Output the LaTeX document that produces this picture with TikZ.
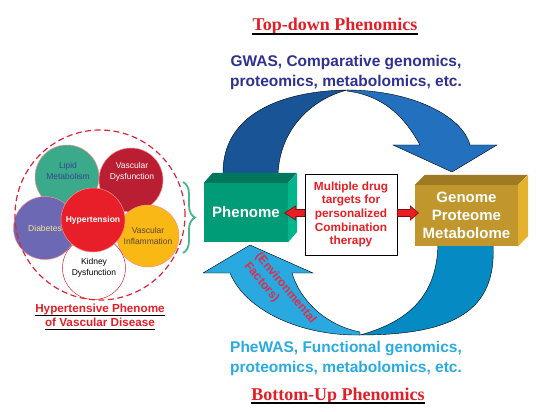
\documentclass[tikz,border=0pt]{standalone}
\usepackage{fontspec}
\setmainfont{Liberation Sans}
\newfontfamily\titleserif{Liberation Serif}
\usetikzlibrary{decorations.pathreplacing}

\definecolor{hdred}{RGB}{228,30,38}
\definecolor{gwasblue}{RGB}{46,49,146}
\definecolor{phewasblue}{RGB}{41,170,225}
\definecolor{topdark}{RGB}{25,85,150}
\definecolor{toplight}{RGB}{35,112,190}
\definecolor{botdark}{RGB}{5,138,196}
\definecolor{botlight}{RGB}{42,168,224}
\definecolor{phenofront}{RGB}{0,156,120}
\definecolor{phenotop}{RGB}{0,118,92}
\definecolor{phenoside}{RGB}{0,182,138}
\definecolor{genofront}{RGB}{192,150,45}
\definecolor{genotop}{RGB}{158,122,35}
\definecolor{genoside}{RGB}{228,178,45}
\definecolor{arrred}{RGB}{232,30,36}
\definecolor{arrdark}{RGB}{130,10,10}
\definecolor{lipidc}{RGB}{58,170,138}
\definecolor{lipidtext}{RGB}{55,70,140}
\definecolor{vdysc}{RGB}{186,30,50}
\definecolor{diabc}{RGB}{108,104,180}
\definecolor{diabtext}{RGB}{240,230,140}
\definecolor{vinfc}{RGB}{250,184,20}
\definecolor{vinftext}{RGB}{90,70,50}
\definecolor{hyperc}{RGB}{232,30,40}
\definecolor{bracegreen}{RGB}{70,182,140}
\definecolor{dashred}{RGB}{222,36,56}
\definecolor{envred}{RGB}{222,45,75}

\tikzset{
  blob/.style={circle,draw=red!45,line width=0.5pt,minimum size=64pt,inner sep=0pt,
    align=center,font=\fontsize{8.5}{11}\selectfont},
  blobtext/.style={inner sep=0pt,align=center,font=\fontsize{8.5}{11.5}\selectfont},
  phtitle/.style={inner sep=0pt,text=hdred,font=\titleserif\bfseries\fontsize{18}{20}\selectfont},
  methods/.style={inner sep=0pt,align=center,font=\bfseries\fontsize{15.5}{20}\selectfont},
  bigarrow/.style={draw=black,line width=0.4pt},
  redarrow/.style={fill=arrred,draw=arrdark,line width=0.6pt,line join=miter}
}

\begin{document}
\begin{tikzpicture}[x=1pt,y=-1pt]
  \useasboundingbox (0,0) rectangle (542,412);

  \node[phtitle,anchor=base] (top) at (335,31) {Top-down Phenomics};
  \draw[line width=1.6pt] ([yshift=-3pt]top.base west) -- ([yshift=-3pt]top.base east);
  \node[methods,text=gwasblue] (gwas) at (346,72) {GWAS, Comparative genomics,\\proteomics, metabolomics, etc.};

  \node[phtitle,anchor=base] (bottom) at (338,400) {Bottom-Up Phenomics};
  \draw[line width=1.6pt] ([yshift=-3pt]bottom.base west) -- ([yshift=-3pt]bottom.base east);
  \node[methods,text=phewasblue] (phewas) at (346,358) {PheWAS, Functional genomics,\\proteomics, metabolomics, etc.};

  \fill[bigarrow,fill=topdark] (223,174) .. controls (222,115) and (280,91) .. (347,90)
    .. controls (310,100) and (280,130) .. (278,174) -- cycle;
  \fill[bigarrow,fill=toplight] (347,90) .. controls (410,90) and (462,115) .. (470,145)
    -- (497,145) -- (452,172) -- (393,145) -- (420,145)
    .. controls (405,118) and (385,96) .. (347,91) -- cycle;

  \fill[bigarrow,fill=botlight] (360,335) .. controls (300,336) and (245,310) .. (230,273)
    -- (203,273) -- (250,245) -- (313,273) -- (292,273)
    .. controls (300,300) and (325,325) .. (360,332) -- cycle;
  \fill[bigarrow,fill=botdark] (493,244) .. controls (497,310) and (455,335) .. (360,335)
    .. controls (415,320) and (437,290) .. (438,244) -- cycle;

  \node[rotate=-50,align=left,inner sep=0pt,text=envred,font=\bfseries\fontsize{12}{14.5}\selectfont]
    (env) at (280,293) {(Environmental\\Factors)};

  \node[fill=phenofront,minimum width=84pt,minimum height=59pt,inner sep=0pt,text=white,
    font=\bfseries\fontsize{15}{18}\selectfont] (pheno) at (246,212.5) {Phenome};
  \fill[phenotop] (pheno.north west) -- ++(9,-10) -- ++(84,0) -- (pheno.north east) -- cycle;
  \fill[phenoside] (pheno.north east) -- ++(9,-10) -- ++(0,59) -- (pheno.south east) -- cycle;

  \node[fill=genofront,minimum width=103pt,minimum height=61pt,inner sep=0pt,text=white,align=center,
    font=\bfseries\fontsize{15}{18.3}\selectfont] (geno) at (466.5,215.5) {Genome\\Proteome\\Metabolome};
  \fill[genotop] (geno.north west) -- ++(10,-10) -- ++(103,0) -- (geno.north east) -- cycle;
  \fill[genoside] (geno.north east) -- ++(10,-10) -- ++(0,61) -- (geno.south east) -- cycle;

  \node[draw=black,line width=0.8pt,fill=white,minimum width=92pt,minimum height=81pt,inner sep=0pt,
    align=center,text=arrred,font=\bfseries\fontsize{11.8}{13.7}\selectfont] (drug) at (351,214.5)
    {Multiple drug\\targets for\\personalized\\Combination\\therapy};

  \draw[redarrow] ([yshift=1.5pt]drug.west) ++(0,-3.5) -- ++(-9,0) -- ++(0,-3.5) -- ++(-11,7)
    -- ++(11,7) -- ++(0,-3.5) -- ++(9,0) -- cycle;
  \draw[redarrow] ([yshift=1.5pt]drug.east) ++(0,-3.5) -- ++(13,0) -- ++(0,-3.5) -- ++(8,7)
    -- ++(-8,7) -- ++(0,-3.5) -- ++(-13,0) -- cycle;

  \node[blob,fill=lipidc] (lipid) at (67,177) {};
  \node[blobtext,text=lipidtext] (lipid-t) at (68,171) {Lipid\\Metabolism};
  \node[blob,fill=vdysc] (vdys) at (131,180) {};
  \node[blobtext,text=white] (vdys-t) at (132,172) {Vascular\\Dysfunction};
  \node[blob,fill=diabc,text=diabtext,minimum size=63pt] (diab) at (45,228) {Diabetes};
  \node[blob,fill=vinfc,text=vinftext,minimum size=62pt] (vinf) at (148,236) {Vascular\\Inflammation};
  \node[blob,fill=white,draw=dashred,minimum size=63pt] (kidney) at (94,268) {Kidney\\Dysfunction};
  \node[blob,fill=hyperc,text=white,font=\bfseries\fontsize{8.5}{11}\selectfont] (hyper) at (93,220) {Hypertension};

  \node[circle,draw=dashred,line width=1.2pt,dash pattern=on 6pt off 3.5pt,minimum size=170pt,inner sep=0pt]
    (phenome-set) at (100,215) {};

  \coordinate (bt) at (183,182);
  \coordinate (bb) at (183,253);
  \draw[bracegreen,line width=1.8pt,decorate,decoration={brace,amplitude=12pt}] (bt) -- (bb);

  \node[inner sep=0pt,anchor=base,text=hdred,font=\bfseries\fontsize{11.7}{14}\selectfont] (cap1) at (100,312.5) {Hypertensive Phenome};
  \draw[line width=1pt] ([yshift=-2.5pt]cap1.base west) -- ([yshift=-2.5pt]cap1.base east);
  \node[inner sep=0pt,anchor=base,text=hdred,font=\bfseries\fontsize{11.7}{14}\selectfont] (cap2) at (100,326.5) {of Vascular Disease};
  \draw[line width=1pt] ([yshift=-2.5pt]cap2.base west) -- ([yshift=-2.5pt]cap2.base east);
\end{tikzpicture}
\end{document}
